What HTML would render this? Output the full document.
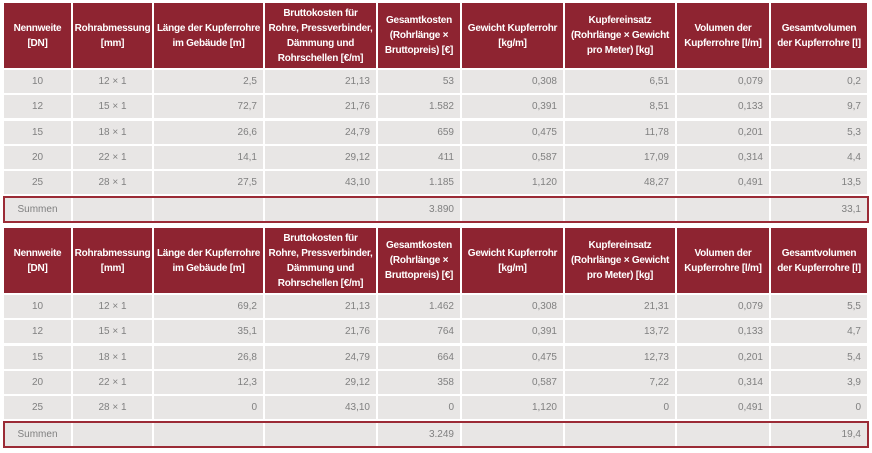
<!DOCTYPE html>
<html><head><meta charset="utf-8">
<style>
html,body{margin:0;padding:0;background:#fff;}
body{width:872px;height:453px;position:relative;overflow:hidden;font-family:"Liberation Sans",sans-serif;}
.c{position:absolute;box-sizing:border-box;display:flex;align-items:center;font-size:10px;color:#808080;background:#e8e6e5;padding:0 6px;white-space:nowrap;}
.h{background:#8e2431;color:#fff;font-weight:bold;justify-content:center;text-align:center;line-height:15px;font-size:10px;letter-spacing:-0.25px;padding:0 1px;}
.r{justify-content:flex-end;}
.m{justify-content:center;}
.sum{position:absolute;box-sizing:border-box;border:2px solid #9b2b36;left:3px;width:866px;}
</style></head>
<body>
<script>
const colLeft=[4,73,154,265,378,462,565,677,771];
const colRight=[71,152,263,376,460,563,675,769,867];
const headers=["Nennweite<br>[DN]","Rohrabmessung<br>[mm]","Länge der Kupferrohre<br>im Gebäude [m]","Bruttokosten für<br>Rohre, Pressverbinder,<br>Dämmung und<br>Rohrschellen [€/m]","Gesamtkosten<br>(Rohrlänge ×<br>Bruttopreis) [€]","Gewicht Kupferrohr<br>[kg/m]","Kupfereinsatz<br>(Rohrlänge × Gewicht<br>pro Meter) [kg]","Volumen der<br>Kupferrohre [l/m]","Gesamtvolumen<br>der Kupferrohre [l]"];
const table1Rows=[
["10","12 × 1","2,5","21,13","53","0,308","6,51","0,079","0,2"],
["12","15 × 1","72,7","21,76","1.582","0,391","8,51","0,133","9,7"],
["15","18 × 1","26,6","24,79","659","0,475","11,78","0,201","5,3"],
["20","22 × 1","14,1","29,12","411","0,587","17,09","0,314","4,4"],
["25","28 × 1","27,5","43,10","1.185","1,120","48,27","0,491","13,5"]];
const table1Sum=["Summen","","","","3.890","","","","33,1"];
const table2Rows=[
["10","12 × 1","69,2","21,13","1.462","0,308","21,31","0,079","5,5"],
["12","15 × 1","35,1","21,76","764","0,391","13,72","0,133","4,7"],
["15","18 × 1","26,8","24,79","664","0,475","12,73","0,201","5,4"],
["20","22 × 1","12,3","29,12","358","0,587","7,22","0,314","3,9"],
["25","28 × 1","0","43,10","0","1,120","0","0,491","0"]];
const table2Sum=["Summen","","","","3.249","","","","19,4"];

function cell(x,y,w,h,cls,html){
  const d=document.createElement('div');
  d.className='c '+cls;
  d.style.left=x+'px';d.style.top=y+'px';d.style.width=w+'px';d.style.height=h+'px';
  d.innerHTML=html;
  document.body.appendChild(d);
  return d;
}
function build(top,rows,sums,tag){
  for(let i=0;i<headers.length;i++){
    const e=cell(colLeft[i],top,colRight[i]-colLeft[i],65,'h',headers[i]);
    
    
  }
  const rt=top+67;
  const pitch=25.25;
  rows.forEach((row,r)=>{
    row.forEach((v,i)=>{
      const e=cell(colLeft[i],Math.round(rt+r*pitch),colRight[i]-colLeft[i],23,i<2?'m':'r',v);
      
      
    });
  });
  const st=Math.round(rt+rows.length*pitch);
  sums.forEach((v,i)=>{
    const e=cell(colLeft[i],st+2,colRight[i]-colLeft[i],23,i<2?'m':'r',v);
    
    
  });
  const b=document.createElement('div');
  b.className='sum';
  b.style.top=st+'px';b.style.height='27px';
  
  
  document.body.appendChild(b);
}
build(3,table1Rows,table1Sum,'table1');
build(228,table2Rows,table2Sum,'table2');
</script>
</body></html>
